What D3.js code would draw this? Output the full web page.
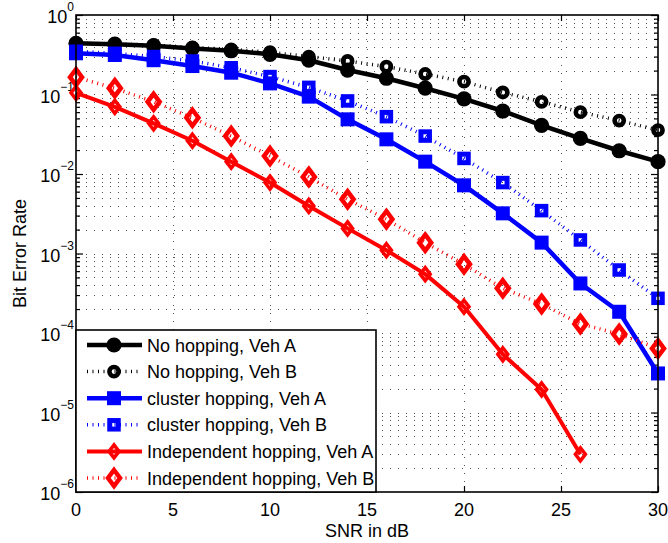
<!DOCTYPE html>
<html>
<head>
<meta charset="utf-8">
<script src="https://cdn.jsdelivr.net/npm/d3@7"></script>
<style>
  html, body { margin: 0; padding: 0; background: #fff; }
  svg { display: block; font-family: "Liberation Sans", Arial, Helvetica, sans-serif; }
</style>
</head>
<body>
<svg id="chart" width="668" height="543"></svg>
<script>
// SNR points (dB)
const snr = [0, 2, 4, 6, 8, 10, 12, 14, 16, 18, 20, 22, 24, 26, 28, 30];

// Bit error rate per scheme / vehicle
const noHopA    = [0.44, 0.43, 0.41, 0.38, 0.355, 0.32, 0.27, 0.203, 0.16, 0.12, 0.088, 0.062, 0.041, 0.028, 0.0196, 0.0143];
const noHopB    = [0.44, 0.43, 0.42, 0.39, 0.37, 0.34, 0.30, 0.264, 0.224, 0.181, 0.145, 0.106, 0.081, 0.060, 0.047, 0.0357];
const clusterA  = [0.33, 0.314, 0.27, 0.228, 0.188, 0.138, 0.094, 0.0487, 0.0273, 0.0143, 0.0072, 0.0032, 0.00137, 0.00042, 0.000185, 0.000031];
const clusterB  = [0.35, 0.33, 0.30, 0.264, 0.217, 0.168, 0.123, 0.083, 0.0526, 0.030, 0.0157, 0.0078, 0.00346, 0.00148, 0.00062, 0.000273];
const indepA    = [0.105, 0.070, 0.0434, 0.0262, 0.0143, 0.0078, 0.00396, 0.00207, 0.0011, 0.00055, 0.000214, 0.000054, 0.0000195, 0.00000298];
const indepB    = [0.165, 0.12, 0.081, 0.051, 0.030, 0.0168, 0.0092, 0.0048, 0.0027, 0.00137, 0.00073, 0.000365, 0.000232, 0.00013, 0.000097, 0.000064];

const seriesNames = [
  "No hopping, Veh A", "No hopping, Veh B",
  "cluster hopping, Veh A", "cluster hopping, Veh B",
  "Independent hopping, Veh A", "Independent hopping, Veh B"
];

const xTicks = [0, 5, 10, 15, 20, 25, 30];
const yDecades = [-6, -5, -4, -3, -2, -1, 0];
const xLabel = "SNR in dB";
const yLabel = "Bit Error Rate";

const series = [
  { name: seriesNames[0], values: noHopA,   color: "#000000", dotted: false, marker: "circleFilled" },
  { name: seriesNames[1], values: noHopB,   color: "#000000", dotted: true,  marker: "circleOpen" },
  { name: seriesNames[2], values: clusterA, color: "#0000ff", dotted: false, marker: "squareFilled" },
  { name: seriesNames[3], values: clusterB, color: "#0000ff", dotted: true,  marker: "squareOpen" },
  { name: seriesNames[4], values: indepA,   color: "#ff0000", dotted: false, marker: "diamondA" },
  { name: seriesNames[5], values: indepB,   color: "#ff0000", dotted: true,  marker: "diamondB" }
];

const svg = d3.select("#chart");
const L = 76, R = 658, T = 15, B = 492;
const FS = 18;

const x = d3.scaleLinear().domain([0, 30]).range([L, R]);
const y = d3.scaleLog().domain([1e-6, 1]).range([B, T]);

// ---- grid ----
const grid = svg.append("g");
const minorVals = [];
for (let e = -6; e < 0; e++) for (let m = 1; m <= 9; m++) minorVals.push(m * Math.pow(10, e));
grid.selectAll("line.h").data(minorVals.filter(v => v > 1e-6)).enter().append("line")
  .attr("x1", L + 2).attr("x2", R)
  .attr("y1", d => Math.round(y(d)) + 0.5).attr("y2", d => Math.round(y(d)) + 0.5)
  .attr("stroke", "#555").attr("stroke-width", 1).attr("stroke-dasharray", "1,7");
grid.selectAll("line.v").data(xTicks.filter(v => v > 0 && v < 30)).enter().append("line")
  .attr("x1", d => Math.round(x(d)) + 0.5).attr("x2", d => Math.round(x(d)) + 0.5)
  .attr("y1", T + 2).attr("y2", B)
  .attr("stroke", "#555").attr("stroke-width", 1).attr("stroke-dasharray", "1,7");

// ---- axes ticks ----
const axes = svg.append("g");
const allY = minorVals.concat([1]);
const isDecade = d => Math.abs(Math.log10(d) - Math.round(Math.log10(d))) < 1e-9;
axes.append("g").attr("transform", `translate(${L},0)`)
  .call(d3.axisLeft(y).tickValues(allY).tickSizeInner(-4).tickSizeOuter(0).tickFormat(""));
axes.append("g").attr("transform", `translate(${R},0)`)
  .call(d3.axisRight(y).tickValues(allY).tickSizeInner(-4).tickSizeOuter(0).tickFormat(""));
axes.append("g").attr("transform", `translate(0,${B})`)
  .call(d3.axisBottom(x).tickValues(xTicks).tickSizeInner(-6).tickSizeOuter(0).tickFormat(""));
axes.append("g").attr("transform", `translate(0,${T})`)
  .call(d3.axisTop(x).tickValues(xTicks).tickSizeInner(-6).tickSizeOuter(0).tickFormat(""));
axes.selectAll(".domain").remove();
axes.selectAll(".tick line").attr("stroke", "#000").attr("stroke-width", 1.2);
axes.selectAll("g.tick").filter(d => d < 1.5 && isDecade(d)).select("line")
  .attr("x2", function() { const v = +d3.select(this).attr("x2"); return v > 0 ? 7 : -7; });

// tick labels
const lab = svg.append("g").attr("font-size", FS).attr("fill", "#000");
lab.selectAll("text.xt").data(xTicks).enter().append("text")
  .attr("x", d => x(d)).attr("y", 516).attr("text-anchor", "middle").text(d => d);
yDecades.forEach(e => {
  const yy = y(Math.pow(10, e));
  const t = lab.append("text").attr("x", 74).attr("y", yy + 8).attr("text-anchor", "end");
  t.append("tspan").text("10");
  t.append("tspan").attr("dy", -12).attr("font-size", 12).text(e === 0 ? "0" : "\u2212" + Math.abs(e));
});
lab.append("text").attr("x", (L + R) / 2).attr("y", 537).attr("text-anchor", "middle").text(xLabel);
lab.append("text").attr("transform", `translate(26,${(T + B) / 2}) rotate(-90)`)
  .attr("text-anchor", "middle").text(yLabel);

// ---- markers ----
function drawMarker(g, type, color, cx, cy) {
  switch (type) {
    case "circleFilled":
      g.append("circle").attr("cx", cx).attr("cy", cy).attr("r", 7.6).attr("fill", color);
      break;
    case "circleOpen":
      g.append("circle").attr("cx", cx).attr("cy", cy).attr("r", 4.6)
        .attr("fill", "none").attr("stroke", color).attr("stroke-width", 4.6);
      break;
    case "squareFilled":
      g.append("rect").attr("x", cx - 7).attr("y", cy - 7).attr("width", 14).attr("height", 14).attr("fill", color);
      break;
    case "squareOpen":
      g.append("rect").attr("x", cx - 4.25).attr("y", cy - 4.25).attr("width", 8.5).attr("height", 8.5)
        .attr("fill", "none").attr("stroke", color).attr("stroke-width", 5);
      break;
    case "diamondA":
      g.append("path").attr("d", `M${cx},${cy - 6.5}L${cx + 5},${cy}L${cx},${cy + 6.5}L${cx - 5},${cy}Z`)
        .attr("fill", "none").attr("stroke", color).attr("stroke-width", 3.5);
      break;
    case "diamondB":
      g.append("path").attr("d", `M${cx},${cy - 8}L${cx + 6},${cy}L${cx},${cy + 8}L${cx - 6},${cy}Z`)
        .attr("fill", "none").attr("stroke", color).attr("stroke-width", 4.5);
      break;
  }
}

function styleLine(sel, s) {
  sel.attr("fill", "none").attr("stroke", s.color);
  if (s.dotted) sel.attr("stroke-width", 3.5).attr("stroke-dasharray", "1,4.5").attr("stroke-linecap", "butt");
  else sel.attr("stroke-width", s.color === "#ff0000" ? 4 : 4.5).attr("stroke-linejoin", "round");
}

// ---- series ----
const plot = svg.append("g");
const line = d3.line().x(d => x(d[0])).y(d => y(d[1]));
series.forEach(s => {
  const pts = s.values.map((v, i) => [snr[i], v]);
  const g = plot.append("g");
  styleLine(g.append("path").attr("d", line(pts)), s);
  pts.forEach(p => drawMarker(g, s.marker, s.color, x(p[0]), y(p[1])));
});

// ---- frame ----
svg.append("rect").attr("x", L).attr("y", T).attr("width", R - L).attr("height", B - T)
  .attr("fill", "none").attr("stroke", "#000").attr("stroke-width", 1.6);

// ---- legend ----
const lg = svg.append("g");
lg.append("rect").attr("x", L).attr("y", 330).attr("width", 300).attr("height", B - 330)
  .attr("fill", "#fff").attr("stroke", "#000").attr("stroke-width", 1.6);
series.forEach((s, i) => {
  const ry = 345 + i * 26.6;
  styleLine(lg.append("line").attr("x1", 87).attr("x2", 142).attr("y1", ry).attr("y2", ry), s);
  drawMarker(lg, s.marker, s.color, 114, ry);
  lg.append("text").attr("x", 147).attr("y", ry + 6.5).attr("font-size", FS).text(s.name);
});
</script>
</body>
</html>
